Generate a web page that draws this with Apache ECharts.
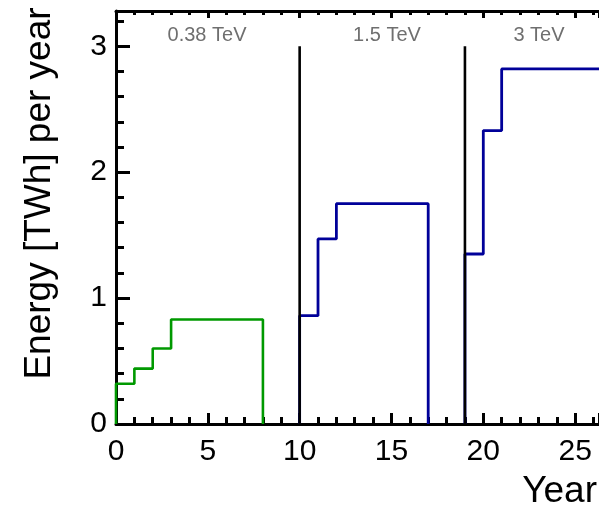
<!DOCTYPE html>
<html>
<head>
<meta charset="utf-8">
<script src="https://cdn.jsdelivr.net/npm/echarts@6/dist/echarts.min.js"></script>
<style>
  html, body { margin: 0; padding: 0; background: #fff; }
  #chart { width: 599px; height: 505px; }
</style>
</head>
<body>
<div id="chart"></div>
<script>
// stage edges (year) and energy per year [TWh]
const stageLabels = ['0.38 TeV', '1.5 TeV', '3 TeV'];
const lowEdges = [0, 1, 2, 3, 8];
const lowEnergy = [0.32, 0.44, 0.6, 0.83];
const midEdges = [10, 11, 12, 17];
const midEnergy = [0.86, 1.47, 1.75];
const highEdges = [19, 20, 21, 28];
const highEnergy = [1.35, 2.33, 2.82];
const dividers = [10, 19];
const dividerTop = 3;
const xTicks = [0, 5, 10, 15, 20, 25];
const yTicks = [0, 1, 2, 3];

// turn bin edges + values into a step outline
function stepPoints(edges, vals, close) {
  const pts = [[edges[0], 0]];
  for (let i = 0; i < vals.length; i++) {
    pts.push([edges[i], vals[i]]);
    pts.push([edges[i + 1], vals[i]]);
  }
  if (close) pts.push([edges[edges.length - 1], 0]);
  return pts;
}

const chart = echarts.init(document.getElementById('chart'));
const font = 'Liberation Sans';

const axisBase = {
  type: 'value',
  min: 0,
  axisLine: { show: true, lineStyle: { color: '#000', width: 3 } },
  splitLine: { show: false },
  minorSplitLine: { show: false }
};

chart.setOption({
  backgroundColor: '#fff',
  animation: false,
  textStyle: { fontFamily: font },
  grid: { left: 116, top: 11, right: 0, bottom: 81, containLabel: false, outerBoundsMode: 'none' },
  xAxis: [
    Object.assign({}, axisBase, {
      position: 'bottom',
      max: 26.3,
      interval: 5,
      name: 'Year',
      nameLocation: 'end',
      nameGap: -2,
      nameTextStyle: { fontFamily: font, fontSize: 37, color: '#000', align: 'right', verticalAlign: 'top', padding: [49, 0, 0, 0] },
      axisTick: { show: true, inside: true, length: 11, lineStyle: { color: '#000', width: 3 } },
      minorTick: { show: true, splitNumber: 5, length: 7, lineStyle: { color: '#000', width: 3 } },
      axisLabel: {
        margin: 13, fontSize: 30, color: '#000', fontFamily: font, showMaxLabel: false,
        formatter: v => xTicks.indexOf(v) >= 0 ? String(v) : ''
      }
    }),
    Object.assign({}, axisBase, {
      position: 'top',
      max: 26.3,
      interval: 5,
      axisTick: { show: true, inside: true, length: 7, lineStyle: { color: '#000', width: 3 } },
      minorTick: { show: true, splitNumber: 5, length: 4, lineStyle: { color: '#000', width: 3 } },
      axisLabel: { show: false }
    })
  ],
  yAxis: Object.assign({}, axisBase, {
    max: 3.28,
    interval: 1,
    name: 'Energy [TWh] per year',
    nameLocation: 'middle',
    nameRotate: 90,
    nameGap: 58,
    nameTextStyle: { fontFamily: font, fontSize: 37, color: '#000', padding: [0, 0, 0, 48] },
    axisTick: { show: true, inside: true, length: 14, lineStyle: { color: '#000', width: 3 } },
    minorTick: { show: true, splitNumber: 5, length: 8, lineStyle: { color: '#000', width: 3 } },
    axisLabel: {
      margin: 9, fontSize: 30, color: '#000', fontFamily: font, showMaxLabel: false,
      formatter: v => yTicks.indexOf(v) >= 0 ? String(v) : ''
    }
  }),
  graphic: [
    { type: 'text', x: 207, y: 35, style: { text: stageLabels[0], fontFamily: font, fontSize: 20, fill: '#6f6f6f', align: 'center', verticalAlign: 'middle' } },
    { type: 'text', x: 387, y: 35, style: { text: stageLabels[1], fontFamily: font, fontSize: 20, fill: '#6f6f6f', align: 'center', verticalAlign: 'middle' } },
    { type: 'text', x: 539, y: 35, style: { text: stageLabels[2], fontFamily: font, fontSize: 20, fill: '#6f6f6f', align: 'center', verticalAlign: 'middle' } }
  ],
  series: [
    {
      name: stageLabels[0], type: 'line', symbol: 'none', clip: true,
      lineStyle: { color: '#009900', width: 2.6 },
      data: stepPoints(lowEdges, lowEnergy, true)
    },
    {
      name: stageLabels[1], type: 'line', symbol: 'none', clip: true,
      lineStyle: { color: '#000099', width: 2.8 },
      data: stepPoints(midEdges, midEnergy, true)
    },
    {
      name: stageLabels[2], type: 'line', symbol: 'none', clip: true,
      lineStyle: { color: '#000099', width: 2.8 },
      data: stepPoints(highEdges, highEnergy, false)
    }
  ].concat(dividers.map(x => ({
    type: 'line', symbol: 'none', z: 3,
    lineStyle: { color: '#000', width: 2.6 },
    data: [[x, 0], [x, dividerTop]]
  })))
});
</script>
</body>
</html>
